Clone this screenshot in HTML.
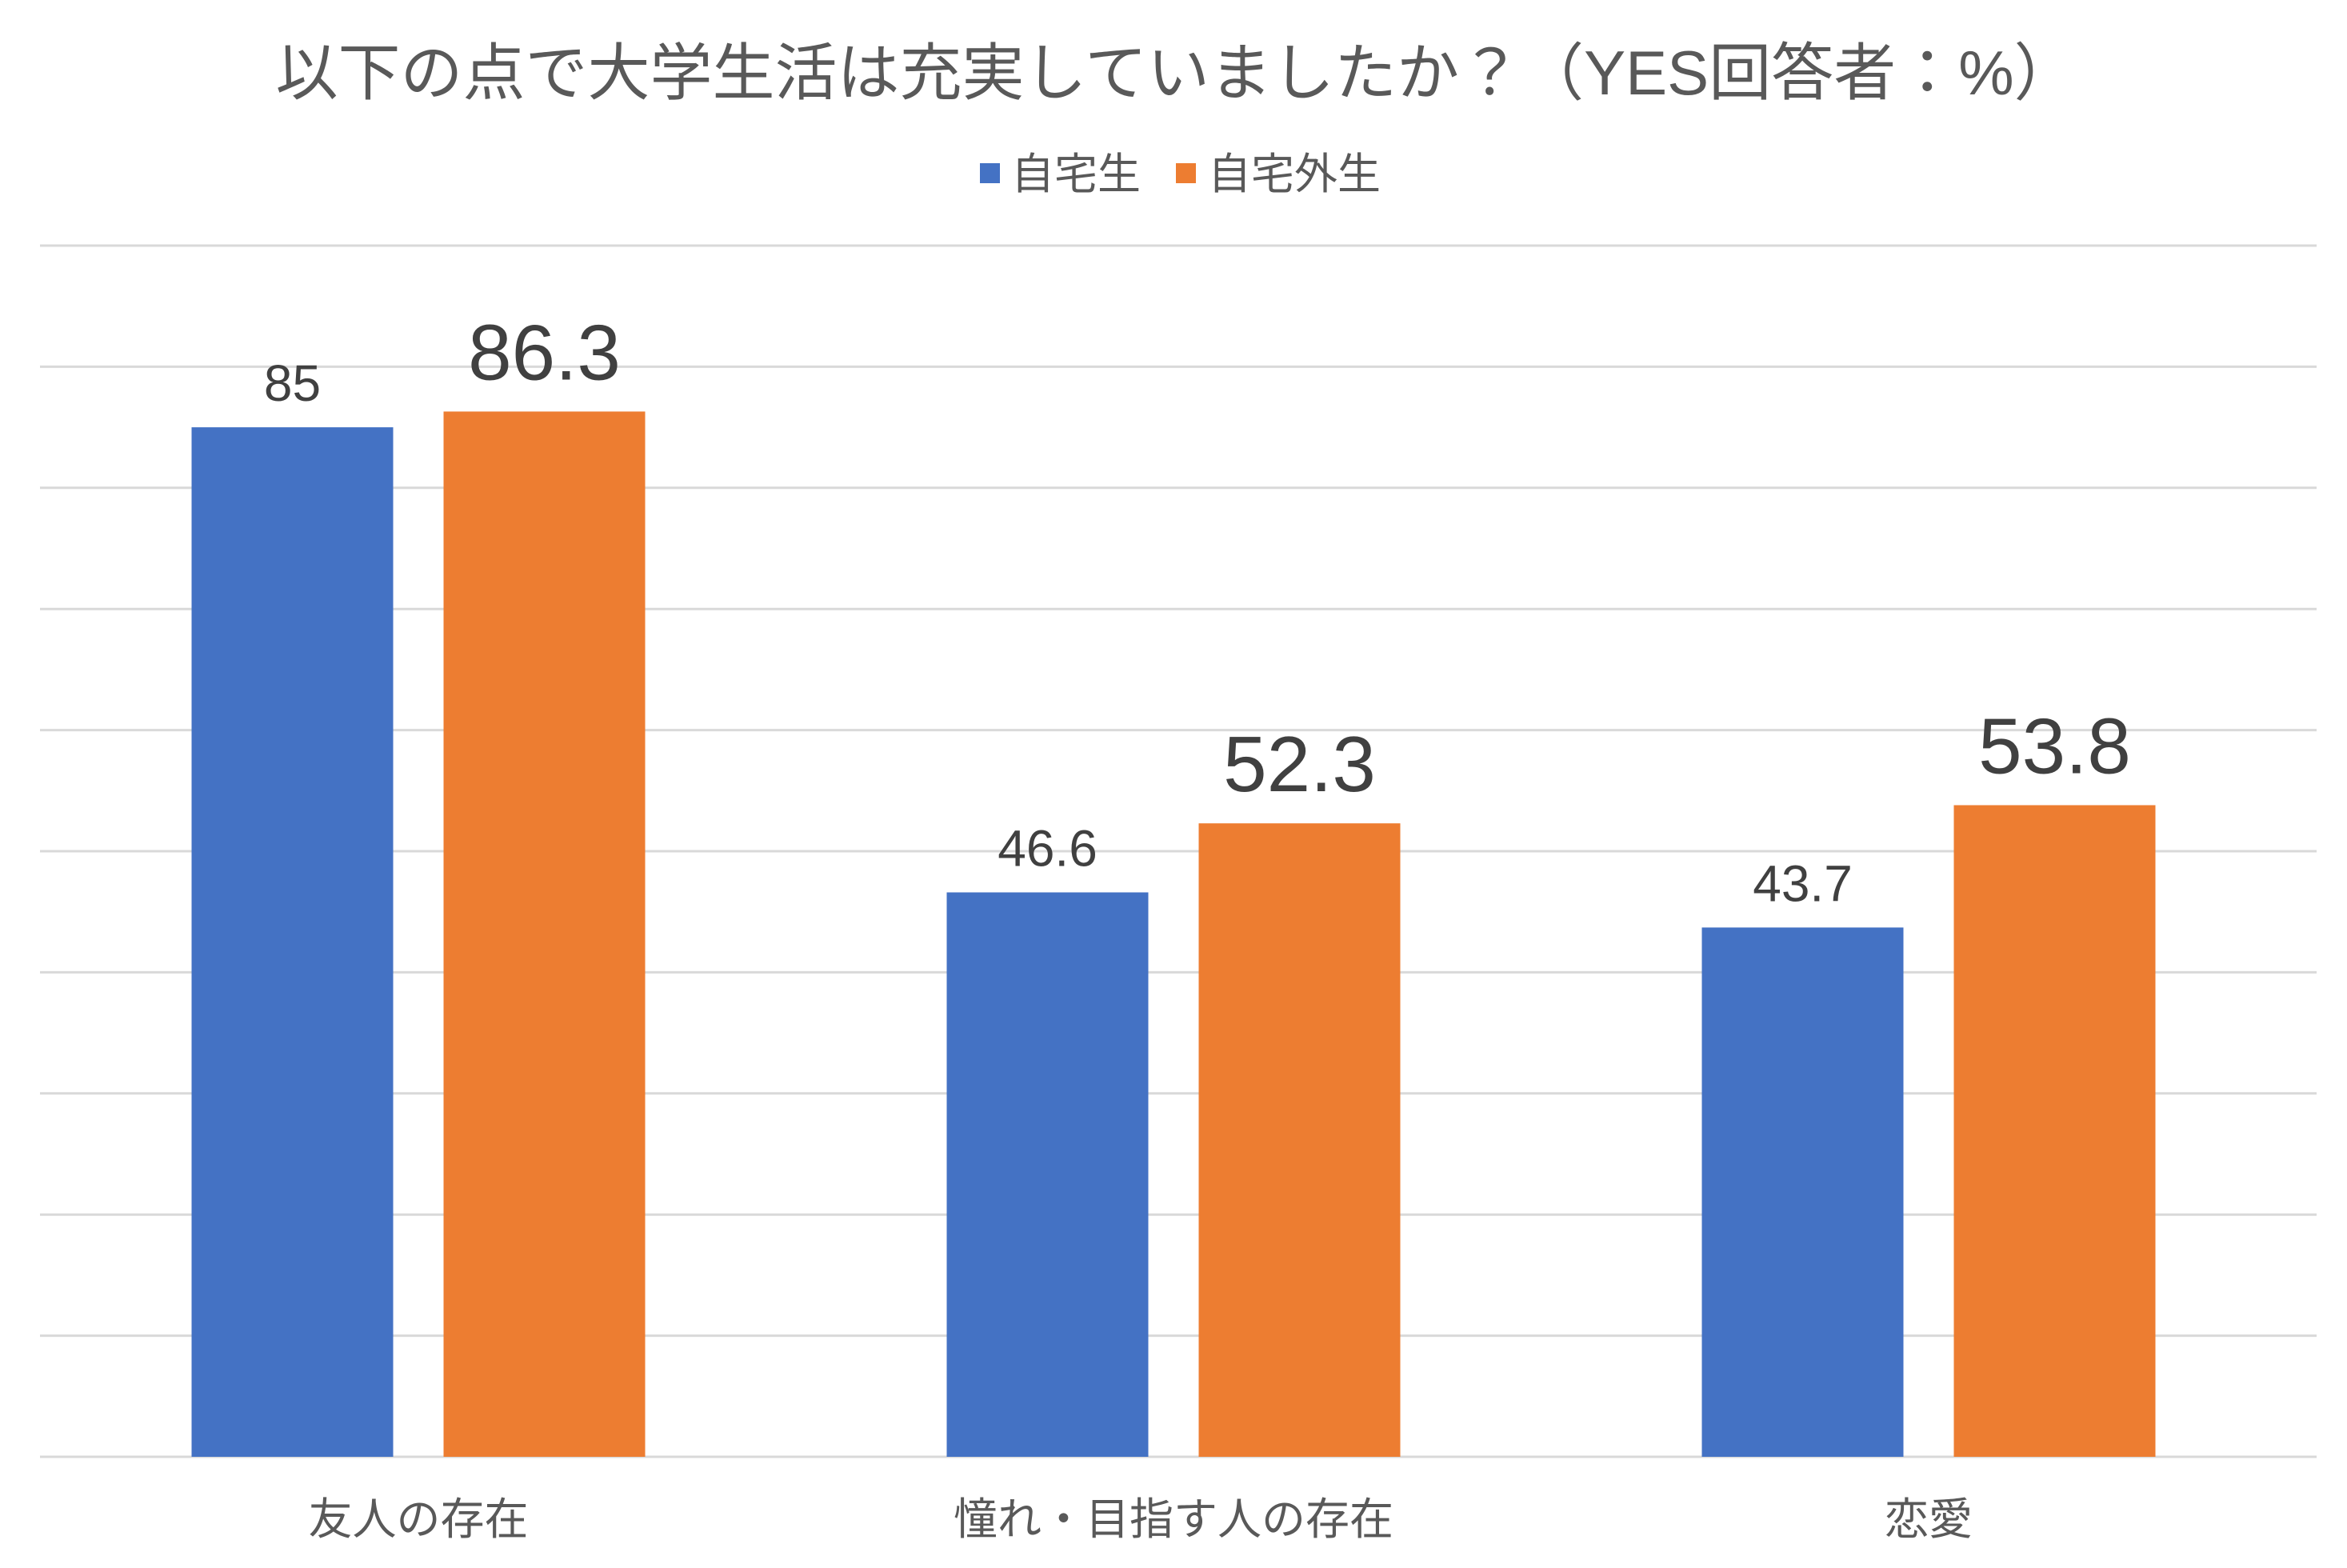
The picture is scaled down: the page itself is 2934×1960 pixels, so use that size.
<!DOCTYPE html>
<html><head><meta charset="utf-8"><style>
html,body{margin:0;padding:0;background:#fff;}
svg text{font-family:"Liberation Sans","Noto Sans CJK JP",sans-serif;}
</style></head><body>
<svg id="chart" width="2934" height="1955" viewBox="0 0 2934 1955" xmlns="http://www.w3.org/2000/svg">
<rect width="2934" height="1955" fill="#fff"/>
<text x="1470" y="118" text-anchor="middle" font-size="78" fill="#595959">以下の点で大学生活は充実していましたか？（YES回答者：%）</text>
<g>
<rect x="1225" y="204" width="25" height="25" fill="#4472C4"/>
<text x="1264" y="236" font-size="54" fill="#595959">自宅生</text>
<rect x="1470" y="204" width="25" height="25" fill="#ED7D31"/>
<text x="1510" y="236" font-size="54" fill="#595959">自宅外生</text>
</g>
<g id="grid"></g>
<g id="bars"></g>
<g id="labels"></g>
<g id="cats"></g>
</svg>
<script>
const categories = ["友人の存在", "憧れ・目指す人の存在", "恋愛"];
const homeValues = [85, 46.6, 43.7];
const awayValues = [86.3, 52.3, 53.8];
const yTicks = [0,10,20,30,40,50,60,70,80,90,100];

const NS = "http://www.w3.org/2000/svg";
const baseY = 1821, topY = 307, yMax = 100;
const plotLeft = 51, band = 944;
const barW = 252, gap = 63;
function y(v){ return baseY - (v / yMax) * (baseY - topY); }
function xCenter(i){ return plotLeft + band * (i + 0.5); }
function mk(tag, attrs, parent){
  const e = document.createElementNS(NS, tag);
  for (const k in attrs) e.setAttribute(k, attrs[k]);
  parent.appendChild(e);
  return e;
}
const grid = document.getElementById('grid');
yTicks.forEach(t => {
  const l = mk('line', {x1: 50, x2: 2896, y1: y(t), y2: y(t), stroke: '#D9D9D9', 'stroke-width': 3}, grid);
  
  
});
const bars = document.getElementById('bars');
const labels = document.getElementById('labels');
const cats = document.getElementById('cats');
categories.forEach((c, i) => {
  const cx = xCenter(i);
  const hx = cx - gap / 2 - barW, ax = cx + gap / 2;
  const b1 = mk('rect', {x: hx, y: y(homeValues[i]), width: barW, height: baseY - y(homeValues[i]), fill: '#4472C4'}, bars);
  
  
  const b2 = mk('rect', {x: ax, y: y(awayValues[i]), width: barW, height: baseY - y(awayValues[i]), fill: '#ED7D31'}, bars);
  
  
  const t1 = mk('text', {x: hx + barW / 2, y: y(homeValues[i]) - 33, 'text-anchor': 'middle', 'font-size': 64, fill: '#404040'}, labels);
  t1.textContent = String(homeValues[i]);
  
  
  const t2 = mk('text', {x: ax + barW / 2, y: y(awayValues[i]) - 40, 'text-anchor': 'middle', 'font-size': 98, fill: '#404040'}, labels);
  t2.textContent = String(awayValues[i]);
  
  
  const ct = mk('text', {x: cx, y: 1918, 'text-anchor': 'middle', 'font-size': 55, fill: '#595959'}, cats);
  ct.textContent = c;
  
  
});
</script>
</body></html>
